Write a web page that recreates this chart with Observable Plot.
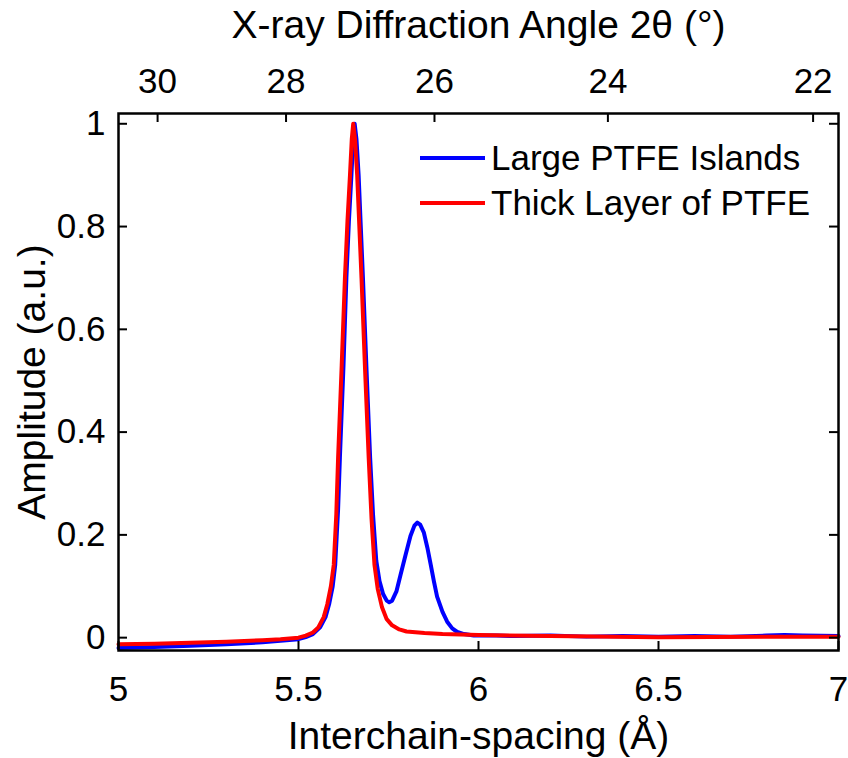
<!DOCTYPE html>
<html>
<head>
<meta charset="utf-8">
<script src="https://cdn.jsdelivr.net/npm/d3@7"></script>
<script src="https://cdn.jsdelivr.net/npm/@observablehq/plot@0.6"></script>
<style>
  html, body { margin: 0; padding: 0; background: #fff; }
  #wrap { position: relative; width: 848px; height: 758px; font-family: "Liberation Sans", Arial, sans-serif; }
  #legend { position: absolute; left: 420px; top: 135px; font-size: 35px; color: #000; }
  .row { display: flex; align-items: center; height: 45px; white-space: nowrap; }
  .sw { width: 65px; height: 4px; margin-right: 6px; }
</style>
</head>
<body>
<div id="wrap"></div>
<script>
// Axis titles
const xTitle = "Interchain-spacing (Å)";
const yTitle = "Amplitude (a.u.)";
const topTitle = "X-ray Diffraction Angle 2θ (°)";

// Tick values
const xTicks = [5, 5.5, 6, 6.5, 7];
const yTicks = [0, 0.2, 0.4, 0.6, 0.8, 1];
const topTicks2Theta = [30, 28, 26, 24, 22];
const braggK = 1.3222; // d = braggK / sin(2θ/2)

// Series names
const seriesNames = ["Large PTFE Islands", "Thick Layer of PTFE"];
const seriesColors = ["#0000ff", "#ff0000"];

// Large PTFE Islands (blue)
const blueX = [5.0, 5.1, 5.2, 5.3, 5.4, 5.45, 5.5, 5.52, 5.54, 5.56, 5.575, 5.585, 5.595, 5.602, 5.61, 5.615, 5.625, 5.633, 5.64, 5.647, 5.652, 5.656, 5.661, 5.667, 5.673, 5.679, 5.689, 5.699, 5.707, 5.716, 5.725, 5.735, 5.745, 5.752, 5.76, 5.772, 5.783, 5.797, 5.811, 5.822, 5.830, 5.838, 5.848, 5.858, 5.867, 5.876, 5.885, 5.9, 5.913, 5.927, 5.941, 5.96, 5.987, 6.05, 6.1, 6.2, 6.3, 6.4, 6.5, 6.6, 6.7, 6.8, 6.85, 6.9, 7.0];
const blueY = [-0.020, -0.018, -0.016, -0.013, -0.009, -0.006, -0.003, 0.001, 0.007, 0.020, 0.040, 0.065, 0.100, 0.142, 0.250, 0.350, 0.530, 0.700, 0.810, 0.900, 0.970, 1.000, 0.970, 0.900, 0.800, 0.700, 0.520, 0.350, 0.240, 0.150, 0.110, 0.085, 0.072, 0.069, 0.072, 0.090, 0.121, 0.160, 0.198, 0.218, 0.224, 0.220, 0.205, 0.175, 0.143, 0.110, 0.080, 0.050, 0.031, 0.018, 0.011, 0.007, 0.004, 0.004, 0.003, 0.004, 0.002, 0.003, 0.002, 0.003, 0.002, 0.004, 0.005, 0.004, 0.003];

// Thick Layer of PTFE (red)
const redX = [5.0, 5.1, 5.2, 5.3, 5.4, 5.45, 5.5, 5.52, 5.54, 5.555, 5.57, 5.58, 5.59, 5.598, 5.605, 5.61, 5.62, 5.629, 5.636, 5.643, 5.648, 5.652, 5.657, 5.663, 5.669, 5.675, 5.685, 5.695, 5.703, 5.711, 5.72, 5.732, 5.745, 5.76, 5.78, 5.8, 5.85, 5.9, 6.0, 6.2, 6.5, 6.8, 7.0];
const redY = [-0.013, -0.012, -0.010, -0.008, -0.005, -0.003, 0.000, 0.004, 0.010, 0.020, 0.040, 0.065, 0.100, 0.142, 0.240, 0.350, 0.530, 0.700, 0.810, 0.900, 0.970, 1.000, 0.970, 0.900, 0.800, 0.700, 0.520, 0.350, 0.230, 0.142, 0.095, 0.059, 0.036, 0.024, 0.016, 0.012, 0.009, 0.007, 0.005, 0.003, 0.001, 0.002, 0.002];

const blueData = blueX.map((x, i) => ({x, y: blueY[i]}));
const redData = redX.map((x, i) => ({x, y: redY[i]}));
const topTickD = topTicks2Theta.map(t => braggK / Math.sin((t / 2) * Math.PI / 180));
const topLabel = new Map(topTickD.map((d, i) => [d, String(topTicks2Theta[i])]));

const W = 848, H = 758, mL = 118, mR = 10, mT = 113, mB = 108;
const frameW = W - mL - mR, frameH = H - mT - mB;
const tickLen = 9;

const chart = Plot.plot({
  width: W,
  height: H,
  marginLeft: mL,
  marginRight: mR,
  marginTop: mT,
  marginBottom: mB,
  style: {fontFamily: "Liberation Sans, Arial, sans-serif", background: "#fff", color: "#000"},
  x: {domain: [5, 7]},
  y: {domain: [-0.025, 1.02]},
  marks: [
    Plot.line(blueData, {x: "x", y: "y", stroke: seriesColors[0], strokeWidth: 4}),
    Plot.line(redData, {x: "x", y: "y", stroke: seriesColors[1], strokeWidth: 4}),
    Plot.frame({stroke: "#000", strokeWidth: 2.5}),
    // inward ticks
    Plot.tickX(xTicks, {x: d => d, insetTop: frameH - tickLen, stroke: "#000", strokeWidth: 2}),
    Plot.tickX(topTickD, {x: d => d, insetBottom: frameH - tickLen, stroke: "#000", strokeWidth: 2}),
    Plot.tickY(yTicks, {y: d => d, insetRight: frameW - tickLen, stroke: "#000", strokeWidth: 2}),
    Plot.tickY(yTicks, {y: d => d, insetLeft: frameW - tickLen, stroke: "#000", strokeWidth: 2}),
    // tick labels
    Plot.axisX({anchor: "bottom", ticks: xTicks, tickSize: 0, tickPadding: 26, fontSize: 35, label: null, tickFormat: d => String(d)}),
    Plot.axisX({anchor: "top", ticks: topTickD, tickSize: 0, tickPadding: 21, fontSize: 35, label: null, tickFormat: d => topLabel.get(d)}),
    Plot.axisY({anchor: "left", ticks: yTicks, tickSize: 0, tickPadding: 13, fontSize: 35, label: null, tickFormat: d => String(d)}),
    // titles
    Plot.text([xTitle], {frameAnchor: "bottom", lineAnchor: "middle", dy: 86, fontSize: 39}),
    Plot.text([topTitle], {frameAnchor: "top", lineAnchor: "middle", dy: -88, fontSize: 39}),
    Plot.text([yTitle], {frameAnchor: "left", textAnchor: "middle", lineAnchor: "middle", dx: -86, rotate: -90, fontSize: 39})
  ]
});

const wrap = document.getElementById("wrap");
wrap.appendChild(chart);
const legend = document.createElement("div");
legend.id = "legend";
seriesNames.forEach((name, i) => {
  const row = document.createElement("div");
  row.className = "row";
  const sw = document.createElement("div");
  sw.className = "sw";
  sw.style.background = seriesColors[i];
  const t = document.createElement("span");
  t.textContent = name;
  row.appendChild(sw);
  row.appendChild(t);
  legend.appendChild(row);
});
wrap.appendChild(legend);
</script>
</body>
</html>
